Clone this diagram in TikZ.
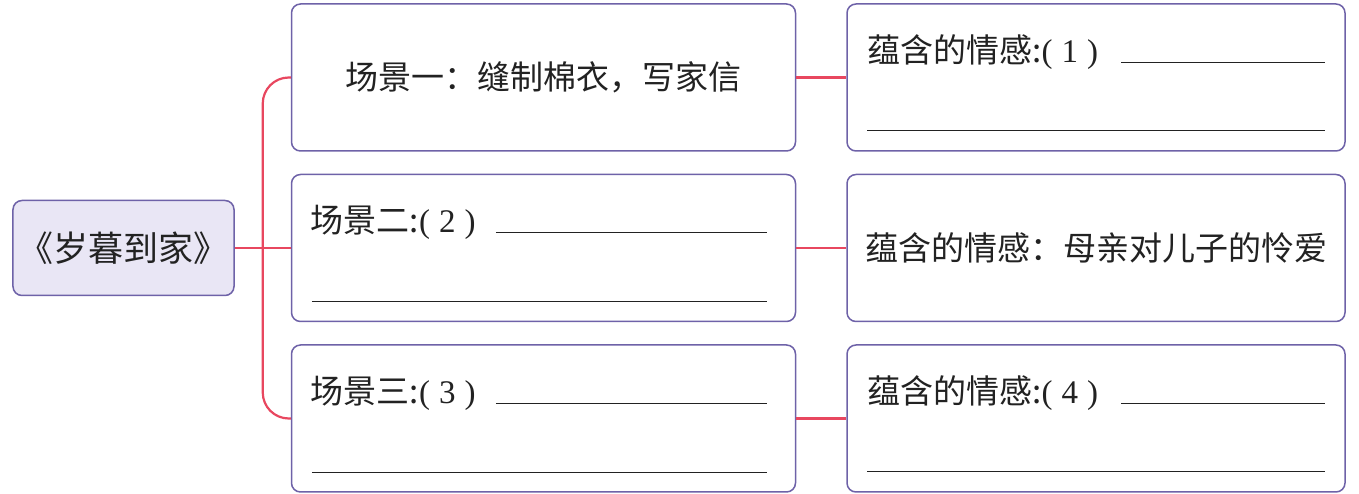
\documentclass[tikz,border=0pt]{standalone}
\usepackage{fontspec}
\usepackage{xcolor}
\usepackage{tikz}
\usetikzlibrary{positioning,calc}
\newfontfamily\cjk{Noto Sans CJK SC}
\newfontfamily\serifnum{Liberation Serif}
\definecolor{mapPurple}{HTML}{6E62A8}
\definecolor{mapLilac}{HTML}{E9E6F5}
\definecolor{mapRed}{HTML}{E8475F}
\definecolor{mapInk}{HTML}{222222}
\newcommand{\num}[1]{{\serifnum(\hspace{9pt}#1\hspace{9pt})}}

\begin{document}
\begin{tikzpicture}[
  font=\cjk\fontsize{33}{40}\selectfont,
  root/.style={rectangle, rounded corners=9pt, draw=mapPurple, line width=1.5pt, fill=mapLilac, minimum width=221pt, minimum height=95pt, inner sep=0pt, text=mapInk, font=\cjk\fontsize{35}{40}\selectfont},
  scene/.style={rectangle, rounded corners=9pt, draw=mapPurple, line width=1.5pt, fill=white, minimum width=504pt, minimum height=147pt, inner sep=0pt, text=mapInk},
  feel/.style={rectangle, rounded corners=9pt, draw=mapPurple, line width=1.5pt, fill=white, minimum width=498pt, minimum height=147pt, inner sep=0pt, text=mapInk},
  label/.style={anchor=base west, inner sep=0pt, text=mapInk},
  link/.style={draw=mapRed, line width=2.2pt},
  blank/.style={draw=mapInk, line width=1.2pt}
]
\useasboundingbox (-123.5pt,-246pt) rectangle (1235.5pt,248pt);

\node[root] (title) {《岁暮到家》};
\node[scene, right=56pt of title] (scene2) {};
\node[scene, above=22pt of scene2] (scene1) {场景一：缝制棉衣，写家信};
\node[scene, below=22pt of scene2] (scene3) {};
\node[feel, right=50pt of scene1] (feel1) {};
\node[feel, right=50pt of scene2] (feel2) {蕴含的情感：母亲对儿子的怜爱};
\node[feel, right=50pt of scene3] (feel3) {};

% texts with blanks to fill in
\node[label] (scene2txt) at ([xshift=20pt, yshift=-59pt]scene2.north west) {场景二:\num{2}};
\draw[blank] ([xshift=205pt, yshift=-59pt]scene2.north west) -- ++(271pt,0);
\draw[blank] ([xshift=21pt, yshift=-128pt]scene2.north west) -- ++(455pt,0);
\node[label] (scene3txt) at ([xshift=20pt, yshift=-59pt]scene3.north west) {场景三:\num{3}};
\draw[blank] ([xshift=205pt, yshift=-59pt]scene3.north west) -- ++(271pt,0);
\draw[blank] ([xshift=21pt, yshift=-128pt]scene3.north west) -- ++(455pt,0);
\node[label] (feel1txt) at ([xshift=21pt, yshift=-59pt]feel1.north west) {蕴含的情感:\num{1}};
\draw[blank] ([xshift=275pt, yshift=-59pt]feel1.north west) -- ++(204pt,0);
\draw[blank] ([xshift=21pt, yshift=-127pt]feel1.north west) -- ++(458pt,0);
\node[label] (feel3txt) at ([xshift=21pt, yshift=-59pt]feel3.north west) {蕴含的情感:\num{4}};
\draw[blank] ([xshift=275pt, yshift=-59pt]feel3.north west) -- ++(204pt,0);
\draw[blank] ([xshift=21pt, yshift=-127pt]feel3.north west) -- ++(458pt,0);

% branches
\coordinate (fork) at ($(title.east)!0.5!(scene2.west)$);
\draw[link] (title.east) -- (scene2.west);
\draw[link, rounded corners=26pt] (scene1.west) -| (fork) |- (scene3.west);
\draw[link] (scene1.east) -- (feel1.west);
\draw[link] (scene2.east) -- (feel2.west);
\draw[link] (scene3.east) -- (feel3.west);
\end{tikzpicture}
\end{document}
